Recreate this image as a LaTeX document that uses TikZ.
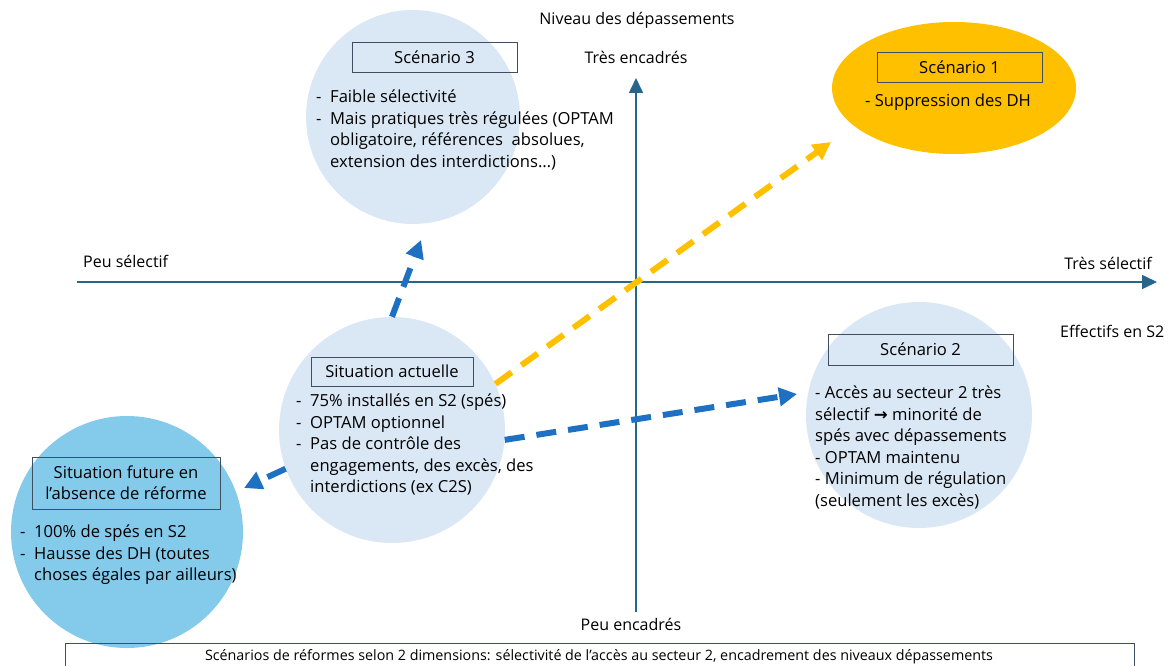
\documentclass[tikz,border=0pt]{standalone}
\usepackage{fontspec}
\setmainfont{Open Sans}
\newfontfamily\symb{DejaVu Sans}
\usetikzlibrary{arrows.meta,positioning,shapes.geometric}
\definecolor{bulleclair}{HTML}{DAE7F5}
\definecolor{bulleor}{HTML}{FFC000}
\definecolor{bullefutur}{HTML}{83CAEB}
\definecolor{flechebleu}{HTML}{1E70C2}
\definecolor{axebleu}{HTML}{27668A}
\definecolor{cadre}{HTML}{3F4E63}
\newcommand{\corps}{\fontsize{16.6}{21.5}\selectfont}
\newcommand{\tiret}{\makebox[14pt][l]{-}}
\newcommand{\suite}{\hspace*{14pt}}

\begin{document}
\begin{tikzpicture}[x=1pt, y=-1pt,
	bulle/.style={circle, fill=bulleclair, minimum size=#1, inner sep=0},
	titre/.style={draw=cadre, line width=0.9pt, inner sep=0, font=\corps, align=center},
	liste/.style={anchor=north west, inner sep=0, align=left, font=\corps},
	etiq/.style={inner sep=0, font=\fontsize{16}{20}\selectfont},
	fleche/.style={line width=6pt, dash pattern=on 20pt off 12pt, -{Triangle[length=18pt,width=18pt]}},
	axe/.style={line width=1.6pt, draw=axebleu, -{Triangle[length=15pt,width=14pt]}}]
	\useasboundingbox (0,0) rectangle (1169,666);
	
	% bulles
	\node[bulle=214pt] (c3) at (413,117) {};
	\node[ellipse, fill=bulleor, minimum width=244pt, minimum height=132pt] (c1) at (954,88) {};
	\node[bulle=226pt] (actu) at (392,430) {};
	\node[bulle=226pt] (c2) at (919,415) {};
	\node[bulle=232pt, fill=bullefutur] (futur) at (127,532) {};
	
	% axes
	\coordinate (xg) at (77,282);
	\coordinate (xd) at (1157,282);
	\coordinate (yb) at (636,612);
	\coordinate (yh) at (636,78);
	\draw[axe] (xg) -- (xd);
	\draw[axe] (yb) -- (yh);
	
	\node[etiq] (niv) at (637,20) {Niveau des dépassements};
	\node[etiq] (tenc) at (636,57) {Très encadrés};
	\node[etiq, anchor=west] (psel) at (83,261) {Peu sélectif};
	\node[etiq, anchor=east] (tsel) at (1152,263) {Très sélectif};
	\node[etiq, anchor=west] (eff) at (1060,331) {Effectifs en S2};
	\node[etiq] (penc) at (631,624) {Peu encadrés};
	
	% titres
	\node[titre, minimum width=165pt, minimum height=30pt] (t3) at (434.5,57) {Scénario 3};
	\node[titre, minimum width=165pt, minimum height=30pt] (t1) at (959.5,67) {Scénario 1};
	\node[titre, minimum width=162pt, minimum height=29pt] (tactu) at (392,371.5) {Situation actuelle};
	\node[titre, minimum width=185pt, minimum height=31pt] (t2) at (920.5,349.5) {Scénario 2};
	\node[titre, minimum width=188pt, minimum height=52pt, font=\fontsize{16.6}{21}\selectfont] (tfutur) at (126,483) {Situation future en\\l’absence de réforme};
	
	% listes
	\node[liste] (l3) at (316,90) {\tiret Faible sélectivité\\
		\tiret Mais pratiques très régulées (OPTAM\\
		\suite obligatoire, références~ absolues,\\
		\suite extension des interdictions…)};
	\node[liste] (l1) at (865,94) {- Suppression des DH};
	\node[liste] (lactu) at (296,394) {\tiret 75\% installés en S2 (spés)\\
		\tiret OPTAM optionnel\\
		\tiret Pas de contrôle des\\
		\suite engagements, des excès, des\\
		\suite interdictions (ex C2S)};
	\node[liste] (l2) at (815,386) {- Accès au secteur 2 très\\
		sélectif {\symb\bfseries →} minorité de\\
		spés avec dépassements\\
		- OPTAM maintenu\\
		- Minimum de régulation\\
		(seulement les excès)};
	\node[liste] (lfutur) at (20,525) {\tiret 100\% de spés en S2\\
		\tiret Hausse des DH (toutes\\
		\suite choses égales par ailleurs)};
	
	% fleches
	\coordinate (p3) at (421,240);
	\coordinate (p1) at (831,142);
	\coordinate (p2) at (797,394);
	\coordinate (pf) at (244,488);
	\draw[fleche, flechebleu] (actu.north) -- (p3);
	\draw[fleche, bulleor] (actu.24) -- (p1);
	\draw[fleche, flechebleu] (actu.-5) -- (p2);
	\draw[fleche, flechebleu] (actu.200) -- (pf);
	
	% legende
	\node[draw=cadre, line width=0.9pt, minimum width=1069pt, minimum height=36pt, anchor=north west, inner sep=0] (leg) at (65,643) {};
	\node[inner sep=0, font=\fontsize{14.3}{15}\selectfont] (tleg) at (599,657) {Scénarios de réformes selon 2 dimensions: sélectivité de l’accès au secteur 2, encadrement des niveaux dépassements};
\end{tikzpicture}
\end{document}
